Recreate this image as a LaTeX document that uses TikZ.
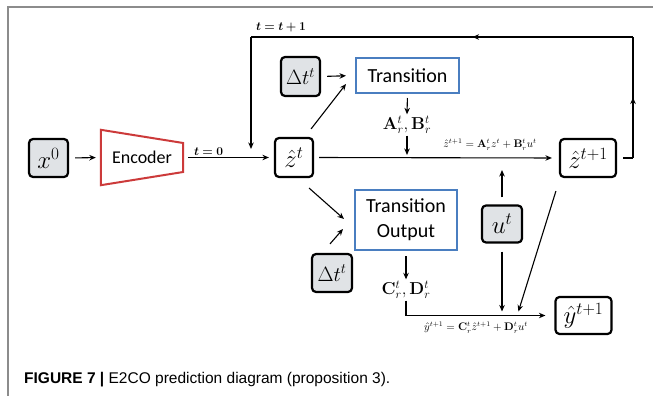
\documentclass[tikz,border=0pt]{standalone}
\usepackage{amsmath}
\usepackage{bm}
\usepackage[no-math]{fontspec}
\setmainfont{Carlito}
\newfontfamily\capfont{Liberation Sans}
\usetikzlibrary{arrows.meta,calc,decorations.markings}

\definecolor{boxgray}{RGB}{224,227,230}
\definecolor{tblue}{RGB}{74,126,192}
\definecolor{ered}{RGB}{204,58,58}
\definecolor{framegray}{RGB}{140,140,140}

\tikzset{
  basebox/.style={draw, line width=2.2pt, rounded corners=4pt, inner sep=0pt,
    font=\fontsize{23}{27}\selectfont},
  gbox/.style={basebox, fill=boxgray},
  wbox/.style={basebox, fill=white},
  deltabox/.style={gbox, font=\fontsize{21}{25}\selectfont},
  bluebox/.style={draw=tblue, line width=2pt, inner sep=0pt, align=center,
    font=\fontsize{20}{25}\selectfont},
  line/.style={line width=1.1pt},
  conn/.style={line, -{Stealth[length=6.5pt,width=5.5pt]}},
  midarrow/.style={postaction={decorate}, decoration={markings,
    mark=at position #1 with {\arrow{Stealth[length=6.5pt,width=5.5pt]}}}},
  eqlabel/.style={inner sep=1pt, font=\fontsize{10.5}{12}\selectfont},
  matlabel/.style={inner sep=1.5pt, font=\fontsize{17}{20}\selectfont},
  steplabel/.style={inner sep=1pt, font=\fontsize{13}{15}\selectfont},
}

\begin{document}
\begin{tikzpicture}[x=1pt,y=-1pt]
\useasboundingbox (0,0) rectangle (653,396);

% page frame
\draw[framegray, line width=1.2pt] (653,7) -- (8,7) -- (8,396);

% nodes
\node[gbox, minimum width=39pt, minimum height=38pt] (x0) at (48.5,158) {$x^0$};
\node[inner sep=0pt, minimum width=82pt, minimum height=55pt,
      font=\fontsize{18}{22}\selectfont] (enc) at (142,157.5) {Encoder};
\draw[ered, line width=2pt, line join=miter]
  (enc.north west) -- ($(enc.east)+(0,-14.5)$) -- ($(enc.east)+(0,14.5)$) -- (enc.south west) -- cycle;
\node[wbox, minimum width=38pt, minimum height=39pt] (zt) at (294,157.5) {$\hat z^t$};
\node[deltabox, minimum width=39pt, minimum height=39pt] (dt1) at (300.5,76.5) {$\Delta t^t$};
\node[bluebox, minimum width=103pt, minimum height=35pt] (trans) at (407.5,75.5) {Transition};
\node[matlabel] (AB) at (407,125) {$\mathbf{A}_r^t,\mathbf{B}_r^t$};
\node[wbox, minimum width=56pt, minimum height=38pt] (zt1) at (588,158) {$\hat z^{t+1}$};
\node[gbox, minimum width=40pt, minimum height=37pt] (ut) at (502,224) {$u^t$};
\node[bluebox, minimum width=102pt, minimum height=60pt] (tout) at (406,220) {Transition\\Output};
\node[deltabox, minimum width=40pt, minimum height=38pt] (dt2) at (332,273) {$\Delta t^t$};
\node[matlabel] (CD) at (406,290) {$\mathbf{C}_r^t,\mathbf{D}_r^t$};
\node[wbox, minimum width=56pt, minimum height=37pt] (yt1) at (583.5,315.5) {$\hat y^{t+1}$};

% encoder path
\draw[conn, shorten <=6pt, shorten >=5pt] (x0.east) -- (enc.west);
\draw[conn, shorten <=5pt, shorten >=5pt] (enc.east) -- node[steplabel, above, pos=0.28] {$\bm{t=0}$} (zt.west);

% feedback loop
\coordinate (fbR) at (633,158);
\coordinate (fbTR) at (633,37);
\coordinate (fbTL) at (251,37);
\coordinate (fbE) at (251,149);
\draw[line, shorten <=6pt] (zt1.east) -- (fbR);
\draw[line, midarrow=0.5] (fbR) -- (fbTR);
\draw[line, midarrow=0.42] (fbTR) -- (fbTL);
\draw[conn] (fbTL) -- (fbE);
\node[steplabel] (inc) at (281,27) {$\bm{t=t+1}$};

% transition branch
\draw[conn, shorten <=6pt, shorten >=9pt] (dt1.east) -- (trans.west);
\draw[conn] ($(zt.north east)+(-3,-8)$) -- ($(trans.south west)+(-9,-10)$);
\draw[conn, shorten <=4pt] (trans.south) -- (AB.north);
\draw[conn, shorten >=2.5pt] (AB.south) -- (AB.south |- zt.east);

% state update
\draw[conn, shorten <=5pt, shorten >=7pt] (zt.east) -- (zt1.west);
\node[eqlabel] (eqz) at (490,145) {$\hat z^{t+1}=\mathbf{A}_r^t z^t+\mathbf{B}_r^t u^t$};
\draw[conn, shorten <=7pt, shorten >=12pt] (ut.north) -- (ut.north |- zt1.west);

% output branch
\draw[conn] ($(zt.south east)+(-5,10)$) -- ($(tout.west)+(-10,-1)$);
\draw[conn] ($(dt2.north)+(-2,-9)$) -- ($(tout.west)+(-11,9)$);
\draw[conn, shorten <=5pt] (tout.south) -- (CD.north);
\draw[conn, shorten >=9pt] (CD.south) -- (CD.south |- yt1.west) -- (yt1.west);
\draw[conn, shorten <=8pt, shorten >=4pt] (ut.south) -- (ut.south |- yt1.west);
\coordinate (zdrop) at ($(zt1.south west)+(-3,13)$);
\draw[conn] (zdrop) -- ($(yt1.west)+(-36,-4)$);
\node[eqlabel] (eqy) at (476,328) {$\hat y^{t+1}=\mathbf{C}_r^t \hat z^{t+1}+\mathbf{D}_r^t u^t$};

% caption
\node[anchor=west, inner sep=0pt, font=\capfont\fontsize{15.5}{18}\selectfont] (cap) at (24,380)
  {\textbf{FIGURE 7 |} E2CO prediction diagram (proposition 3).};
\end{tikzpicture}
\end{document}
